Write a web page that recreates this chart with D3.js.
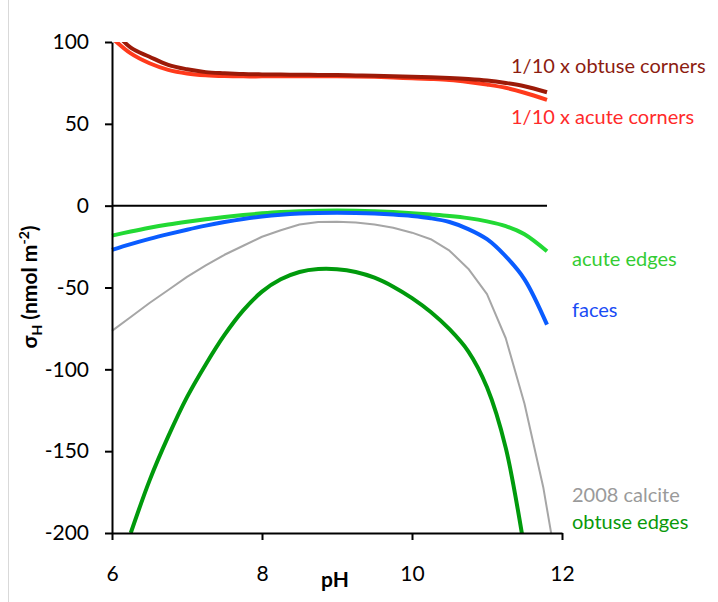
<!DOCTYPE html>
<html>
<head>
<meta charset="utf-8">
<style>
body { margin: 0; background: #fff; }
svg { display: block; font-family: Lato, "Open Sans", sans-serif; }
.axis path, .axis line { stroke: #000; stroke-width: 2px; }
.axis text { font-size: 21px; fill: #000; font-family: Lato, sans-serif; }
.series { fill: none; stroke-linejoin: round; stroke-linecap: butt; }
.lbl { font-size: 20px; }
</style>
</head>
<body>
<svg width="718" height="602"></svg>
<script src="https://d3js.org/d3.v7.min.js"></script>
<script>
// pH grid shared by most of the curves
var pH = [6, 6.25, 6.5, 6.75, 7, 7.25, 7.5, 7.75, 8, 8.25, 8.5, 8.75, 9,
          9.25, 9.5, 9.75, 10, 10.25, 10.5, 10.75, 11, 11.25, 11.5, 11.8];

// values (nmol m-2)
var obtuseCorners = [108.5, 96.5, 91, 86, 83.3, 81.6, 80.9, 80.4, 80.2, 80.1, 80, 79.9, 79.8,
                     79.6, 79.4, 79.1, 78.7, 78.4, 78, 77.4, 76.5, 75, 73, 69.3];
var acuteCorners  = [102.5, 93, 87, 83, 80.8, 79.7, 79.2, 79, 79, 79, 79, 79, 79,
                     78.9, 78.7, 78.3, 77.8, 77.4, 76.8, 75.6, 74, 72, 69, 64.6];
var acuteEdges    = [-18.3, -15.8, -13.5, -11.5, -9.8, -8.3, -6.9, -5.7, -4.7, -3.9, -3.4, -3.1, -3,
                     -3.1, -3.4, -3.9, -4.6, -5.4, -6.3, -7.6, -9.6, -12.5, -17.5, -27.9];
var faces         = [-27, -23.5, -20.3, -17.4, -14.7, -12.2, -10, -8.1, -6.6, -5.5, -4.8, -4.5, -4.4,
                     -4.5, -4.8, -5.4, -6.3, -7.7, -10, -14.3, -20.5, -31, -45, -72.7];
var obtuseEdges   = [null, -200, -168, -141, -117, -97, -79, -64, -52.5, -45, -40.5, -38.7, -38.8,
                     -40.5, -44, -49.5, -56.5, -65, -75.5, -89, -111, -148, -210, null];
var zeroLine      = [0, 0, 0, 0, 0, 0, 0, 0, 0, 0, 0, 0, 0,
                     0, 0, 0, 0, 0, 0, 0, 0, 0, 0, 0];

// the 2008 calcite curve has its own points
var calcitePH = [6, 6.25, 6.5, 6.75, 7, 7.25, 7.5, 7.75, 8, 8.25, 8.5, 8.75, 9,
                 9.25, 9.5, 9.75, 10, 10.25, 10.5, 10.75, 11, 11.25, 11.5, 11.75, 11.9];
var calcite2008 = [-76.5, -68, -59.5, -51.5, -43.5, -36.5, -30, -24.5, -19, -15, -11.5, -10, -9.8,
                   -10.3, -11.5, -13.5, -16.5, -20.5, -27.5, -38.5, -54, -81, -121, -172, -212];

var xTicks = [6, 8, 10, 12];
var yTicks = [-200, -150, -100, -50, 0, 50, 100];

var svg = d3.select("svg");

// faint frame edge on the left
svg.append("line").attr("x1", 8.5).attr("x2", 8.5).attr("y1", 0).attr("y2", 602)
  .attr("stroke", "#d9d9d9").attr("stroke-width", 1);

var x = d3.scaleLinear().domain([6, 12]).range([112, 562]);
var y = d3.scaleLinear().domain([-200, 100]).range([533, 42]);

svg.append("defs").append("clipPath").attr("id", "plot")
  .append("rect").attr("x", 100).attr("y", y(100)).attr("width", 480).attr("height", y(-200) - y(100));

function toPts(xs, ys) {
  return xs.map(function(v, i) { return {x: v, y: ys[i]}; });
}

var smooth = d3.curveCatmullRom.alpha(0.5);
var series = [
  {pts: toPts(calcitePH, calcite2008), color: "#a6a6a6", w: 2, curve: d3.curveLinear},
  {pts: toPts(pH, zeroLine), color: "#000", w: 2, curve: d3.curveLinear},
  {pts: toPts(pH, obtuseEdges), color: "#009a0c", w: 4, curve: smooth},
  {pts: toPts(pH, acuteEdges), color: "#22d934", w: 4, curve: smooth},
  {pts: toPts(pH, faces), color: "#0a5cff", w: 4, curve: smooth},
  {pts: toPts(pH, acuteCorners), color: "#ff3a1c", w: 4, curve: smooth},
  {pts: toPts(pH, obtuseCorners), color: "#9c1a08", w: 4, curve: smooth}
];

var g = svg.append("g").attr("clip-path", "url(#plot)");
series.forEach(function(s) {
  var line = d3.line()
    .defined(function(d) { return d.y !== null; })
    .x(function(d) { return x(d.x); })
    .y(function(d) { return y(d.y); })
    .curve(s.curve);
  g.append("path").attr("class", "series")
    .attr("d", line(s.pts))
    .attr("stroke", s.color)
    .attr("stroke-width", s.w);
});

// axes (plain hyphen for negatives, like the original)
var fmt = function(d) { return String(d); };
svg.append("g").attr("class", "axis")
  .attr("transform", "translate(0," + y(-200) + ")")
  .call(d3.axisBottom(x).tickValues(xTicks).tickSize(7).tickSizeOuter(0).tickPadding(26).tickFormat(fmt));
svg.append("g").attr("class", "axis")
  .attr("transform", "translate(" + x(6) + ",0)")
  .call(d3.axisLeft(y).tickValues(yTicks).tickSize(7).tickSizeOuter(0).tickPadding(16).tickFormat(fmt));

// axis titles
svg.append("text").attr("x", 335).attr("y", 587)
  .attr("text-anchor", "middle").attr("font-weight", "bold").attr("font-size", 21).text("pH");

var yt = svg.append("text")
  .attr("transform", "translate(37,287) rotate(-90)")
  .attr("text-anchor", "middle").attr("font-weight", "bold").attr("font-size", 21);
yt.append("tspan").text("σ");
yt.append("tspan").attr("font-size", 14).attr("dy", 5).text("H");
yt.append("tspan").attr("dy", -5).text(" (nmol m");
yt.append("tspan").attr("font-size", 14).attr("dy", -8).text("-2");
yt.append("tspan").attr("dy", 8).text(")");

// series labels
var labels = ["1/10 x obtuse corners", "1/10 x acute corners", "acute edges", "faces", "2008 calcite", "obtuse edges"];
var labelColors = ["#8c1c10", "#ff2a2a", "#33cc33", "#1a4cf5", "#9a9a9a", "#0a990a"];
var labelPos = [[511, 66], [511, 117], [572, 259], [572, 310], [572, 495], [572, 522]];

svg.selectAll(".lbl").data(labels).enter().append("text")
  .attr("class", "lbl")
  .attr("x", function(d, i) { return labelPos[i][0]; })
  .attr("y", function(d, i) { return labelPos[i][1]; })
  .attr("dy", "0.35em")
  .attr("fill", function(d, i) { return labelColors[i]; })
  .text(function(d) { return d; });
</script>
</body>
</html>
